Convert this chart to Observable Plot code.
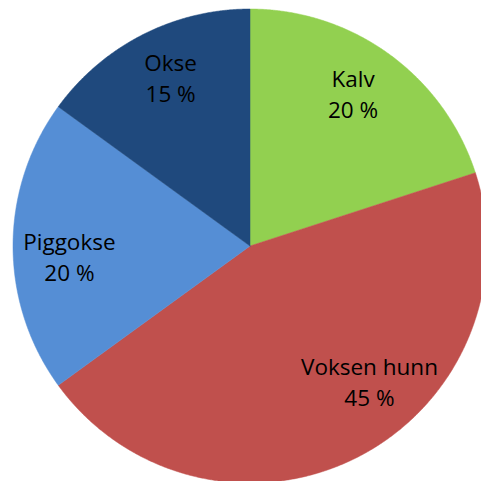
<!DOCTYPE html>
<html>
<head>
<meta charset="utf-8">
<script src="https://cdn.jsdelivr.net/npm/d3@7"></script>
<script src="https://cdn.jsdelivr.net/npm/@observablehq/plot@0.6"></script>
<style>
  html, body { margin: 0; padding: 0; background: #fff; overflow: hidden; }
  #chart svg { display: block; overflow: hidden; }
</style>
</head>
<body>
<div id="chart"></div>
<script>
// ---- data ----
const categories = ["Kalv", "Voksen hunn", "Piggokse", "Okse"];
const shares = [20, 45, 20, 15];
const shareLabels = ["20 %", "45 %", "20 %", "15 %"];

// ---- style / layout ----
const colors = ["#92D050", "#C0504D", "#558ED5", "#1F497D"];
// label anchor (in unit-pie coordinates) for each slice, as placed in the reference
const labelAnchors = [[0.435, 0.649], [0.504, -0.568], [-0.762, -0.040], [-0.335, 0.716]];
const W = 481, H = 481, cx = 249.5, cy = 245.5, R = 237;

// build slice polygons from d3.pie angles
const pie = d3.pie().sort(null).startAngle(0).endAngle(2 * Math.PI)(shares);
const pts = [];
pie.forEach((s, i) => {
  const name = categories[i];
  pts.push({name, x: 0, y: 0});
  const n = Math.max(8, Math.ceil((s.endAngle - s.startAngle) / 0.005));
  for (let k = 0; k <= n; k++) {
    const a = s.startAngle + (s.endAngle - s.startAngle) * k / n;
    pts.push({name, x: Math.sin(a), y: Math.cos(a)});
  }
  pts.push({name, x: 0, y: 0});
});
const labelData = categories.map((c, i) => ({
  text: c + "\n" + shareLabels[i], x: labelAnchors[i][0], y: labelAnchors[i][1]
}));

const chart = Plot.plot({
  width: W, height: H, margin: 0,
  x: {domain: [-1, 1], range: [cx - R, cx + R], axis: null},
  y: {domain: [-1, 1], range: [cy + R, cy - R], axis: null},
  color: {domain: categories, range: colors},
  style: {fontFamily: "'Open Sans', Lato, sans-serif", background: "#fff"},
  marks: [
    Plot.line(pts, {x: "x", y: "y", z: "name", fill: "name", stroke: "name", strokeWidth: 0.5, curve: "linear"}),
    Plot.text(labelData, {x: "x", y: "y", text: "text", fontSize: 22.5, lineHeight: 1.38, fill: "#000", textAnchor: "middle", lineAnchor: "middle"})
  ]
});
document.getElementById("chart").appendChild(chart);
</script>
</body>
</html>
